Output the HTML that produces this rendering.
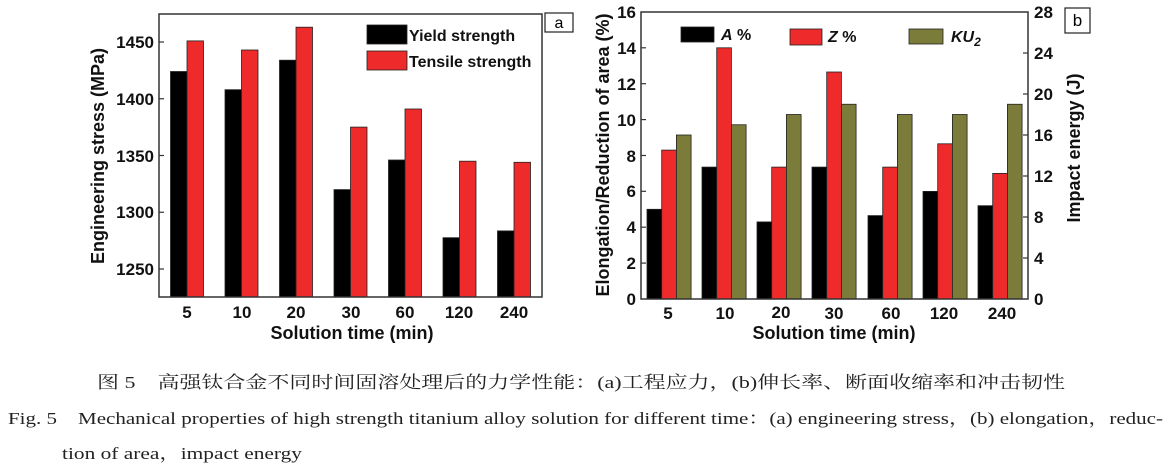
<!DOCTYPE html>
<html><head><meta charset="utf-8"><style>
html,body{margin:0;padding:0;background:#fff;}
svg{display:block;}
.b{font-family:"Liberation Sans",sans-serif;font-weight:bold;fill:#111;}
.s{font-family:"Liberation Serif","Noto Serif CJK SC",serif;fill:#222;}
</style></head><body>
<svg width="1170" height="468" viewBox="0 0 1170 468" xmlns="http://www.w3.org/2000/svg">
<!-- Chart a -->
<g stroke="#222" stroke-width="0.8">
<rect x="170.5" y="71.5" width="16.5" height="225.5" fill="#000"/>
<rect x="187" y="40.9" width="16.5" height="256.1" fill="#ee2a2a"/>
<rect x="225" y="89.7" width="16.5" height="207.3" fill="#000"/>
<rect x="241.5" y="50" width="16.5" height="247" fill="#ee2a2a"/>
<rect x="279.5" y="60.2" width="16.5" height="236.8" fill="#000"/>
<rect x="296" y="27.2" width="16.5" height="269.8" fill="#ee2a2a"/>
<rect x="334" y="189.6" width="16.5" height="107.4" fill="#000"/>
<rect x="350.5" y="127.1" width="16.5" height="169.9" fill="#ee2a2a"/>
<rect x="388.5" y="160" width="16.5" height="137" fill="#000"/>
<rect x="405" y="109" width="16.5" height="188" fill="#ee2a2a"/>
<rect x="443" y="237.7" width="16.5" height="59.3" fill="#000"/>
<rect x="459.5" y="161.2" width="16.5" height="135.8" fill="#ee2a2a"/>
<rect x="497.5" y="230.9" width="16.5" height="66.1" fill="#000"/>
<rect x="514" y="162.3" width="16.5" height="134.7" fill="#ee2a2a"/>
<rect x="367" y="25" width="40" height="19" fill="#000"/>
<rect x="367" y="51" width="40" height="19" fill="#ee2a2a"/>
</g>
<rect x="159" y="14" width="383" height="283" fill="none" stroke="#333" stroke-width="1.5"/>
<g stroke="#333" stroke-width="1.2">
<line x1="159" y1="42" x2="164" y2="42"/><line x1="159" y1="98.75" x2="164" y2="98.75"/><line x1="159" y1="155.5" x2="164" y2="155.5"/><line x1="159" y1="212.25" x2="164" y2="212.25"/><line x1="159" y1="269" x2="164" y2="269"/>
</g>
<g class="b" font-size="17" text-anchor="end">
<text x="154" y="48">1450</text><text x="154" y="105">1400</text><text x="154" y="162">1350</text><text x="154" y="218">1300</text><text x="154" y="275">1250</text>
</g>
<g class="b" font-size="17" text-anchor="middle">
<text x="187" y="318">5</text><text x="242" y="318">10</text><text x="296" y="318">20</text><text x="351" y="318">30</text><text x="405" y="318">60</text><text x="459" y="318">120</text><text x="514" y="318">240</text>
<text x="352" y="339" font-size="18">Solution time (min)</text>
<text transform="translate(104,156) rotate(-90)" font-size="18">Engineering stress (MPa)</text>
</g>
<text class="b" x="409" y="41" font-size="16">Yield strength</text>
<text class="b" x="409" y="67" font-size="16">Tensile strength</text>
<rect x="545" y="13" width="28" height="19" fill="#fff" stroke="#222" stroke-width="1.2"/>
<text x="559" y="28" font-size="16" text-anchor="middle" font-family="Liberation Sans,sans-serif">a</text>

<!-- Chart b -->
<g stroke="#222" stroke-width="0.8">
<rect x="647" y="209.3" width="14.7" height="89.7" fill="#000"/>
<rect x="661.7" y="150.1" width="14.7" height="148.9" fill="#ee2a2a"/>
<rect x="676.4" y="135" width="14.7" height="164" fill="#7b7b3a"/>
<rect x="702" y="167.1" width="14.7" height="131.9" fill="#000"/>
<rect x="716.7" y="47.8" width="14.7" height="251.2" fill="#ee2a2a"/>
<rect x="731.4" y="124.75" width="14.7" height="174.25" fill="#7b7b3a"/>
<rect x="757" y="221.9" width="14.7" height="77.1" fill="#000"/>
<rect x="771.7" y="167.1" width="14.7" height="131.9" fill="#ee2a2a"/>
<rect x="786.4" y="114.5" width="14.7" height="184.5" fill="#7b7b3a"/>
<rect x="812" y="167.1" width="14.7" height="131.9" fill="#000"/>
<rect x="826.7" y="72" width="14.7" height="227" fill="#ee2a2a"/>
<rect x="841.4" y="104.25" width="14.7" height="194.75" fill="#7b7b3a"/>
<rect x="868" y="215.6" width="14.7" height="83.4" fill="#000"/>
<rect x="882.7" y="167.1" width="14.7" height="131.9" fill="#ee2a2a"/>
<rect x="897.4" y="114.5" width="14.7" height="184.5" fill="#7b7b3a"/>
<rect x="923" y="191.4" width="14.7" height="107.6" fill="#000"/>
<rect x="937.7" y="143.8" width="14.7" height="155.2" fill="#ee2a2a"/>
<rect x="952.4" y="114.5" width="14.7" height="184.5" fill="#7b7b3a"/>
<rect x="978" y="205.7" width="14.7" height="93.3" fill="#000"/>
<rect x="992.7" y="173.4" width="14.7" height="125.6" fill="#ee2a2a"/>
<rect x="1007.4" y="104.25" width="14.7" height="194.75" fill="#7b7b3a"/>
<rect x="681" y="27" width="33" height="15" fill="#000"/>
<rect x="790" y="29" width="32" height="16" fill="#ee2a2a"/>
<rect x="909" y="29" width="34" height="15" fill="#7b7b3a"/>
</g>
<rect x="641" y="12" width="387" height="287" fill="none" stroke="#333" stroke-width="1.5"/>
<g stroke="#333" stroke-width="1.2">
<line x1="641" y1="263.1" x2="646" y2="263.1"/><line x1="641" y1="227.2" x2="646" y2="227.2"/><line x1="641" y1="191.3" x2="646" y2="191.3"/><line x1="641" y1="155.5" x2="646" y2="155.5"/><line x1="641" y1="119.6" x2="646" y2="119.6"/><line x1="641" y1="83.7" x2="646" y2="83.7"/><line x1="641" y1="47.8" x2="646" y2="47.8"/>
<line x1="1023" y1="258" x2="1028" y2="258"/><line x1="1023" y1="217" x2="1028" y2="217"/><line x1="1023" y1="176" x2="1028" y2="176"/><line x1="1023" y1="135" x2="1028" y2="135"/><line x1="1023" y1="94" x2="1028" y2="94"/><line x1="1023" y1="53" x2="1028" y2="53"/>
</g>
<g class="b" font-size="17" text-anchor="end">
<text x="636" y="305">0</text><text x="636" y="269">2</text><text x="636" y="233">4</text><text x="636" y="197">6</text><text x="636" y="162">8</text><text x="636" y="126">10</text><text x="636" y="90">12</text><text x="636" y="54">14</text><text x="636" y="18">16</text>
</g>
<g class="b" font-size="17" text-anchor="start">
<text x="1034" y="305">0</text><text x="1034" y="264">4</text><text x="1034" y="223">8</text><text x="1034" y="182">12</text><text x="1034" y="141">16</text><text x="1034" y="100">20</text><text x="1034" y="59">24</text><text x="1034" y="18">28</text>
</g>
<g class="b" font-size="17" text-anchor="middle">
<text x="668" y="319">5</text><text x="725" y="319">10</text><text x="781" y="318">20</text><text x="834" y="319">30</text><text x="891" y="319">60</text><text x="944" y="319">120</text><text x="1002" y="319">240</text>
<text x="834" y="339" font-size="18">Solution time (min)</text>
<text transform="translate(609,155) rotate(-90)" font-size="18">Elongation/Reduction of area (%)</text>
<text transform="translate(1080,148) rotate(-90)" font-size="18">Impact energy (J)</text>
</g>
<text class="b" x="721" y="40" font-size="16" font-style="italic">A<tspan font-style="normal"> %</tspan></text>
<text class="b" x="828" y="42" font-size="16" font-style="italic">Z<tspan font-style="normal"> %</tspan></text>
<text class="b" x="951" y="42" font-size="16" font-style="italic">KU<tspan font-size="12" dy="4">2</tspan></text>
<rect x="1065" y="8" width="25" height="25" fill="#fff" stroke="#222" stroke-width="1.2"/>
<text x="1077.5" y="26" font-size="17" text-anchor="middle" font-family="Liberation Sans,sans-serif">b</text>

<!-- Captions -->
<text class="s" x="97" y="388" font-size="17" textLength="968" lengthAdjust="spacingAndGlyphs">图 5　高强钛合金不同时间固溶处理后的力学性能：(a)工程应力，(b)伸长率、断面收缩率和冲击韧性</text>
<text class="s" x="8" y="424" font-size="17" textLength="1155" lengthAdjust="spacingAndGlyphs">Fig. 5　Mechanical properties of high strength titanium alloy solution for different time：(a) engineering stress，(b) elongation，reduc-</text>
<text class="s" x="62" y="459" font-size="17" textLength="240" lengthAdjust="spacingAndGlyphs">tion of area，impact energy</text>
</svg>
</body></html>
